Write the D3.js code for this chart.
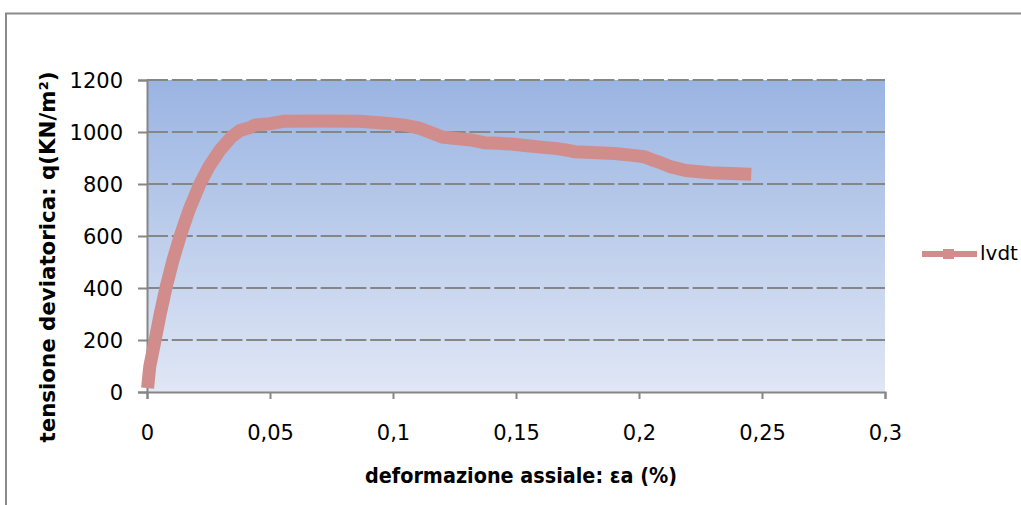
<!DOCTYPE html>
<html>
<head>
<meta charset="utf-8">
<script src="https://cdn.jsdelivr.net/npm/d3@7"></script>
<style>
  body { margin: 0; background: #ffffff; }
  svg { display: block; }
  .tick-label { font-family: "DejaVu Sans", sans-serif; font-size: 21px; fill: #000; }
  .axis-title { font-family: "DejaVu Sans", sans-serif; font-weight: bold; fill: #000; }
  .legend { font-family: "DejaVu Sans", sans-serif; font-size: 20px; fill: #000; }
</style>
</head>
<body>
<svg id="chart" width="1021" height="505"></svg>
<script>
// strain (%) and deviatoric stress (kN/m2)
const strain = [0.0005, 0.0011, 0.0033, 0.0054, 0.0078, 0.0106, 0.0134, 0.0171, 0.0215, 0.0252,
  0.0297, 0.0344, 0.0378, 0.0419, 0.0439, 0.05, 0.0553, 0.07, 0.0866, 0.097,
  0.105, 0.1106, 0.116, 0.12, 0.1256, 0.132, 0.137, 0.1427, 0.148, 0.1557,
  0.162, 0.166, 0.17, 0.174, 0.181, 0.19, 0.1976, 0.202, 0.2057, 0.209,
  0.2126, 0.219, 0.229, 0.243];
const stress = [40, 97, 200, 302, 404, 508, 597, 700, 800, 867,
  931, 982, 1006, 1017, 1027, 1032, 1041, 1042, 1041, 1034,
  1026, 1015, 996, 981, 975, 969, 959, 957, 954, 946,
  940, 937, 931, 924, 921, 917, 910, 905, 892, 881,
  867, 852, 843, 838];
const xTicks = [0, 0.05, 0.1, 0.15, 0.2, 0.25, 0.3];
const xTickLabels = ["0", "0,05", "0,1", "0,15", "0,2", "0,25", "0,3"];
const yTicks = [0, 200, 400, 600, 800, 1000, 1200];
const yTickLabels = ["0", "200", "400", "600", "800", "1000", "1200"];
const seriesName = "lvdt";
const xTitle = "deformazione assiale: \u03b5a (%)";
const yTitle = "tensione deviatorica: q(KN/m\u00b2)";

const svg = d3.select("#chart");
const plotLeft = 147, plotRight = 885, plotTop = 80, plotBottom = 392;

let xScale = d3.scaleLinear().domain([0, 0.3]).range([plotLeft, plotRight]);
let yScale = d3.scaleLinear().domain([0, 1200]).range([plotBottom, plotTop]);

// outer chart border (only left and top are inside the picture)
svg.append("rect")
  .attr("x", 6).attr("y", 13.5)
  .attr("width", 1100).attr("height", 600)
  .attr("fill", "none")
  .attr("stroke", "#8a8a8a")
  .attr("stroke-width", 2);

// plot area gradient
let defs = svg.append("defs");
let grad = defs.append("linearGradient")
  .attr("id", "plotBg")
  .attr("x1", 0).attr("y1", 0).attr("x2", 0).attr("y2", 1);
grad.append("stop").attr("offset", "0%").attr("stop-color", "#9ab4e2");
grad.append("stop").attr("offset", "100%").attr("stop-color", "#e0e7f5");

svg.append("rect")
  .attr("x", plotLeft).attr("y", plotTop)
  .attr("width", plotRight - plotLeft).attr("height", plotBottom - plotTop)
  .attr("fill", "url(#plotBg)");

// dashed gridlines
svg.append("g")
  .selectAll("line")
  .data(yTicks.filter(d => d > 0))
  .enter()
  .append("line")
  .attr("x1", plotLeft).attr("x2", plotRight)
  .attr("y1", d => yScale(d)).attr("y2", d => yScale(d))
  .attr("stroke", "#868686")
  .attr("stroke-width", 1.8)
  .attr("stroke-dasharray", "21,3.8");

// Y axis
let y_axis = d3.axisLeft(yScale).tickValues(yTicks)
  .tickFormat((d, i) => yTickLabels[i]).tickSize(9).tickPadding(15);
let gy = svg.append("g")
  .attr("transform", `translate(${plotLeft},0)`)
  .call(y_axis);
gy.select(".domain").attr("stroke", "#868686").attr("stroke-width", 2);
gy.selectAll(".tick line").attr("stroke", "#868686").attr("stroke-width", 2);
gy.selectAll(".tick text").attr("class", "tick-label").attr("dy", "0.36em");

// X axis
let x_axis = d3.axisBottom(xScale).tickValues(xTicks)
  .tickFormat((d, i) => xTickLabels[i]).tickSize(7).tickPadding(26);
let gx = svg.append("g")
  .attr("transform", `translate(0,${plotBottom})`)
  .call(x_axis);
gx.select(".domain").attr("stroke", "#868686").attr("stroke-width", 2);
gx.selectAll(".tick line").attr("stroke", "#868686").attr("stroke-width", 2);
gx.selectAll(".tick text").attr("class", "tick-label").attr("dy", "0.71em");

// the curve
let line = d3.line()
  .x((d, i) => xScale(strain[i]))
  .y(d => yScale(d));

svg.append("path")
  .datum(stress)
  .attr("d", line)
  .attr("fill", "none")
  .attr("stroke", "#d08d8c")
  .attr("stroke-width", 13)
  .attr("stroke-linejoin", "round")
  .attr("stroke-linecap", "square");

// Titles
svg.append("text")
  .attr("class", "axis-title")
  .attr("x", 521).attr("y", 483)
  .attr("font-size", 22)
  .attr("text-anchor", "middle")
  .attr("textLength", 312)
  .attr("lengthAdjust", "spacingAndGlyphs")
  .text(xTitle);

svg.append("text")
  .attr("class", "axis-title")
  .attr("font-size", 21)
  .attr("transform", `translate(55,257) rotate(-90)`)
  .attr("text-anchor", "middle")
  .attr("textLength", 371)
  .attr("lengthAdjust", "spacingAndGlyphs")
  .text(yTitle);

// Legend
let lg = svg.append("g").attr("transform", "translate(922,254)");
lg.append("line")
  .attr("x1", 0).attr("x2", 55)
  .attr("y1", 0).attr("y2", 0)
  .attr("stroke", "#d08d8c")
  .attr("stroke-width", 6);
lg.append("rect")
  .attr("x", 21).attr("y", -5)
  .attr("width", 11).attr("height", 10)
  .attr("fill", "#d08d8c");
lg.append("text")
  .attr("class", "legend")
  .attr("x", 58).attr("y", 6)
  .text(seriesName);
</script>
</body>
</html>
